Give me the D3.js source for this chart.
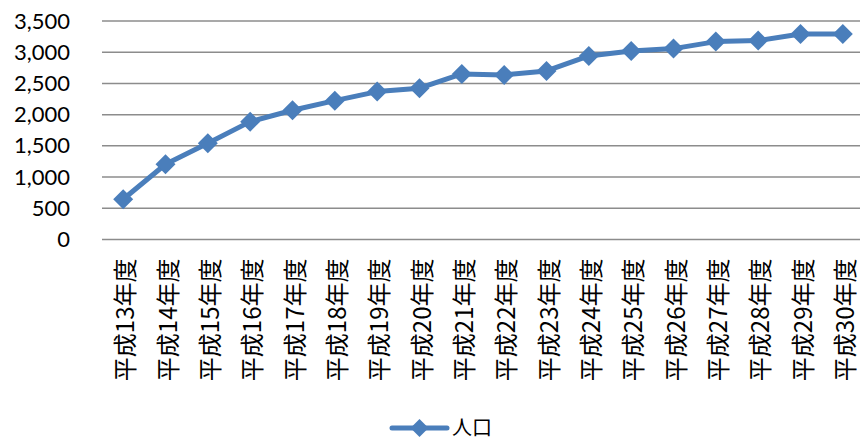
<!DOCTYPE html>
<html>
<head>
<meta charset="utf-8">
<script src="https://cdn.jsdelivr.net/npm/d3@7/dist/d3.min.js"></script>
<style>
  html, body { margin: 0; padding: 0; background: #fff; }
  svg { display: block; }
</style>
</head>
<body>
<div id="chart"></div>
<script>
const categories = ["平成13年度", "平成14年度", "平成15年度", "平成16年度", "平成17年度", "平成18年度",
  "平成19年度", "平成20年度", "平成21年度", "平成22年度", "平成23年度", "平成24年度",
  "平成25年度", "平成26年度", "平成27年度", "平成28年度", "平成29年度", "平成30年度"];
const population = [644, 1205, 1542, 1888, 2070, 2224, 2369, 2423, 2652, 2636, 2700, 2941,
  3021, 3058, 3170, 3186, 3293, 3293];
const yTicks = [0, 500, 1000, 1500, 2000, 2500, 3000, 3500];
const seriesName = "人口";

const width = 860, height = 441;
const margin = { top: 21, right: -4, bottom: 201.5, left: 102 };
const lineColor = "#4a7ebb";
const gridColor = "#8c8c8c";
const numFont = "Lato, 'Open Sans', sans-serif";
const cjkFont = "'Noto Sans CJK JP', sans-serif";

const svg = d3.select("#chart").append("svg")
  .attr("width", width)
  .attr("height", height);

const x = d3.scalePoint()
  .domain(categories)
  .range([margin.left, width - margin.right])
  .padding(0.5);

const y = d3.scaleLinear()
  .domain([0, 3500])
  .range([height - margin.bottom, margin.top]);

// gridlines
svg.append("g")
  .selectAll("line")
  .data(yTicks)
  .join("line")
  .attr("x1", margin.left)
  .attr("x2", width)
  .attr("y1", (d) => y(d))
  .attr("y2", (d) => y(d))
  .attr("stroke", gridColor)
  .attr("stroke-width", 1.5);

// y axis labels
const yAxis = d3.axisLeft(y).tickValues(yTicks).tickFormat(d3.format(",")).tickSize(0).tickPadding(0);
svg.append("g")
  .attr("transform", `translate(${margin.left - 32},0)`)
  .call(yAxis)
  .call((g) => g.select(".domain").remove())
  .call((g) => g.selectAll("text")
    .attr("fill", "#000")
    .attr("font-family", numFont)
    .attr("font-size", "22px"));

// x axis labels (rotated)
const xAxis = d3.axisBottom(x).tickSize(0).tickPadding(0);
svg.append("g")
  .attr("transform", `translate(0,${height - margin.bottom})`)
  .call(xAxis)
  .call((g) => g.select(".domain").remove())
  .call((g) => g.selectAll("text")
    .attr("fill", "#000")
    .attr("font-family", cjkFont)
    .attr("font-size", "24px")
    .attr("text-anchor", "end")
    .attr("dy", null)
    .attr("dominant-baseline", "central")
    .attr("transform", "translate(0,19) rotate(-90)")
    .attr("y", 0)
    .attr("x", 0));

// series line
const line = d3.line()
  .x((d, i) => x(categories[i]))
  .y((d) => y(d));

svg.append("path")
  .datum(population)
  .attr("fill", "none")
  .attr("stroke", lineColor)
  .attr("stroke-width", 5)
  .attr("stroke-linejoin", "round")
  .attr("d", line);

const diamond = (cx, cy, h) => `M${cx},${cy - h}L${cx + h},${cy}L${cx},${cy + h}L${cx - h},${cy}Z`;

svg.append("g")
  .selectAll("path")
  .data(population)
  .join("path")
  .attr("d", (d, i) => diamond(x(categories[i]), y(d), 10))
  .attr("fill", lineColor);

// legend
const legend = svg.append("g").attr("transform", "translate(392,428)");
legend.append("line")
  .attr("x1", 0).attr("x2", 55)
  .attr("y1", 0).attr("y2", 0)
  .attr("stroke", lineColor)
  .attr("stroke-width", 5)
  .attr("stroke-linecap", "round");
legend.append("path")
  .attr("d", diamond(27.5, 0, 9))
  .attr("fill", lineColor);
legend.append("text")
  .attr("x", 60)
  .attr("y", -2)
  .attr("dominant-baseline", "central")
  .attr("font-family", cjkFont)
  .attr("font-size", "20px")
  .attr("fill", "#000")
  .text(seriesName);
</script>
</body>
</html>
